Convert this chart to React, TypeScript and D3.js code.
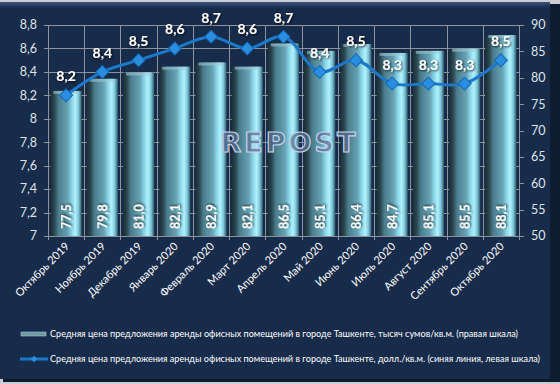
import * as d3 from "d3";
import React, { useEffect, useRef } from "react";

const months = [
  "Октябрь 2019", "Ноябрь 2019", "Декабрь 2019", "Январь 2020", "Февраль 2020",
  "Март 2020", "Апрель 2020", "Май 2020", "Июнь 2020", "Июль 2020",
  "Август 2020", "Сентябрь 2020", "Октябрь 2020",
];
// thousand sum / sq.m. (bars, right axis)
const rentSum = [77.5, 79.8, 81.0, 82.1, 82.9, 82.1, 86.5, 85.1, 86.4, 84.7, 85.1, 85.5, 88.1];
// usd / sq.m. (blue line, left axis)
const rentUsd = [8.2, 8.4, 8.5, 8.6, 8.7, 8.6, 8.7, 8.4, 8.5, 8.3, 8.3, 8.3, 8.5];
const leftTicks = [7, 7.2, 7.4, 7.6, 7.8, 8, 8.2, 8.4, 8.6, 8.8];
const rightTicks = [50, 55, 60, 65, 70, 75, 80, 85, 90];
const legendLabels = [
  "Средняя цена предложения аренды офисных помещений в городе Ташкенте, тысяч сумов/кв.м. (правая шкала)",
  "Средняя цена предложения аренды офисных помещений в городе Ташкенте, долл./кв.м. (синяя линия, левая шкала)",
];

const comma = (v: number, f: string) => d3.format(f)(v).replace(".", ",");

export default function App() {
  const ref = useRef<SVGSVGElement>(null);

  useEffect(() => {
    const svg = d3.select(ref.current);
    svg.selectAll("*").remove();

    const width = 560;
    const height = 384;
    const left = 48, right = 519, top = 25, bottom = 236;
    const font = "Lato, 'Open Sans', sans-serif";

    const defs = svg.append("defs");
    const barGrad = defs.append("linearGradient").attr("id", "barGrad")
      .attr("x1", 0).attr("x2", 1).attr("y1", 0).attr("y2", 0);
    [
      [0, "#1b2e36"], [0.12, "#2a444e"], [0.25, "#4a7c8c"], [0.55, "#67a3b4"],
      [0.7, "#8fdcef"], [0.8, "#b2f0fc"], [0.9, "#7cc6da"], [1, "#2f5a66"],
    ].forEach(([o, c]) => barGrad.append("stop").attr("offset", o as number).attr("stop-color", c as string));

    const bevel = defs.append("linearGradient").attr("id", "bevel")
      .attr("x1", 0).attr("x2", 0).attr("y1", 0).attr("y2", 1);
    bevel.append("stop").attr("offset", 0).attr("stop-color", "#3c5478");
    bevel.append("stop").attr("offset", 1).attr("stop-color", "#172b4b");

    const shadow = defs.append("filter").attr("id", "ts")
      .attr("x", "-20%").attr("y", "-20%").attr("width", "140%").attr("height", "140%");
    shadow.append("feDropShadow").attr("dx", 1).attr("dy", 1).attr("stdDeviation", 0.8)
      .attr("flood-color", "#000").attr("flood-opacity", 0.8);

    // frame
    svg.append("rect").attr("width", width).attr("height", height).attr("fill", "#c9cdd3");
    svg.append("rect").attr("x", 3).attr("y", 4).attr("width", 557).attr("height", 378).attr("fill", "#0f1c30");
    svg.append("rect").attr("x", 0).attr("y", 2).attr("width", 550).attr("height", 377).attr("fill", "#172b4b");
    svg.append("rect").attr("x", 0).attr("y", 2).attr("width", 550).attr("height", 6).attr("fill", "url(#bevel)");

    const x = d3.scaleBand<string>().domain(months).range([left, right])
      .paddingInner(0.14).paddingOuter(0.07);
    const step = x.step();
    const yL = d3.scaleLinear().domain([7, 8.8]).range([bottom, top]);
    const yR = d3.scaleLinear().domain([50, 90]).range([bottom, top]);

    // grid
    const grid = svg.append("g").attr("stroke", "#8d939b").attr("stroke-width", 1);
    grid.selectAll("line.h").data(leftTicks).join("line").attr("class", "h")
      .attr("x1", left - 4).attr("x2", right)
      .attr("y1", d => Math.round(yL(d)) + 0.5).attr("y2", d => Math.round(yL(d)) + 0.5);
    grid.selectAll("line.v").data(d3.range(months.length + 1)).join("line").attr("class", "v")
      .attr("x1", i => Math.round(left + i * step) + 0.5).attr("x2", i => Math.round(left + i * step) + 0.5)
      .attr("y1", top).attr("y2", bottom + 4);

    // bars
    const bars = svg.append("g");
    bars.selectAll("rect.bar").data(rentSum).join("rect").attr("class", "bar")
      .attr("x", (_, i) => x(months[i])!)
      .attr("y", d => yR(d))
      .attr("width", x.bandwidth())
      .attr("height", d => bottom - yR(d))
      .attr("fill", "url(#barGrad)");
    bars.selectAll("rect.cap").data(rentSum).join("rect").attr("class", "cap")
      .attr("x", (_, i) => x(months[i])! + 3)
      .attr("y", d => yR(d))
      .attr("width", x.bandwidth() - 6)
      .attr("height", 3)
      .attr("fill", "#9fc7d2").attr("opacity", 0.6);

    // right axis
    const rAxis = svg.append("g");
    rAxis.append("line").attr("x1", right + 0.5).attr("x2", right + 0.5).attr("y1", top).attr("y2", bottom)
      .attr("stroke", "#8d939b");
    rAxis.selectAll("line.t").data(rightTicks).join("line").attr("class", "t")
      .attr("x1", right).attr("x2", right + 5)
      .attr("y1", d => Math.round(yR(d)) + 0.5).attr("y2", d => Math.round(yR(d)) + 0.5)
      .attr("stroke", "#8d939b");
    rAxis.selectAll("text").data(rightTicks).join("text")
      .attr("x", 531).attr("y", d => yR(d)).attr("dy", "0.35em")
      .attr("fill", "#dfe4ea").style("font-family", font).style("font-size", "12.5px")
      .text(d => d);

    // left axis labels
    svg.append("g").selectAll("text").data(leftTicks).join("text")
      .attr("x", 37).attr("y", d => yL(d)).attr("dy", "0.35em").attr("text-anchor", "end")
      .attr("fill", "#dfe4ea").style("font-family", font).style("font-size", "12.5px")
      .text(d => comma(d, "~g"));

    // bar value labels
    svg.append("g").selectAll("text").data(rentSum).join("text")
      .attr("transform", (_, i) => `translate(${x(months[i])! + x.bandwidth() / 2 + 5},${bottom - 7}) rotate(-90)`)
      .attr("fill", "#fff").style("font-family", font).style("font-size", "12.5px")
      .style("font-weight", "bold").attr("filter", "url(#ts)")
      .text(d => comma(d, ".1f"));

    // watermark
    svg.append("text").attr("x", (left + right) / 2 + 6).attr("y", 152)
      .attr("text-anchor", "middle").style("font-family", "'DejaVu Sans', sans-serif")
      .style("font-size", "27px").style("font-weight", "bold").style("letter-spacing", "3px")
      .attr("fill", "#5b7292").attr("fill-opacity", 0.75).attr("stroke", "#c3d2ea").attr("stroke-width", 1.2)
      .text("REPOST");

    // line
    const cx = (i: number) => x(months[i])! + x.bandwidth() / 2;
    const line = d3.line<number>().x((_, i) => cx(i)).y(d => yL(d)).curve(d3.curveCatmullRom.alpha(0.5));
    svg.append("path").datum(rentUsd).attr("d", line)
      .attr("fill", "none").attr("stroke", "#1c78c8").attr("stroke-width", 3);
    const sq = d3.symbol(d3.symbolSquare, 85);
    svg.append("g").selectAll("path").data(rentUsd).join("path")
      .attr("transform", (d, i) => `translate(${cx(i)},${yL(d)}) rotate(45)`)
      .attr("d", sq()).attr("fill", "#2a8ee0").attr("stroke", "#1566b0").attr("stroke-width", 1);

    // line labels
    svg.append("g").selectAll("text").data(rentUsd).join("text")
      .attr("x", (_, i) => cx(i)).attr("y", d => yL(d) - 14).attr("text-anchor", "middle")
      .attr("fill", "#fff").style("font-family", font).style("font-size", "14px")
      .style("font-weight", "bold").attr("filter", "url(#ts)")
      .text(d => comma(d, ".1f"));

    // x labels
    svg.append("g").selectAll("text").data(months).join("text")
      .attr("transform", d => `translate(${x(d)! + x.bandwidth() / 2 + 4},${bottom + 11}) rotate(-45)`)
      .attr("text-anchor", "end").attr("fill", "#fff")
      .style("font-family", font).style("font-size", "11px")
      .text(d => d);

    // legend
    const lg = svg.append("g");
    lg.append("rect").attr("x", 21).attr("y", 332).attr("width", 25).attr("height", 4)
      .attr("fill", "#6e9aa4").attr("stroke", "#a9c4ca").attr("stroke-width", 0.6);
    lg.append("line").attr("x1", 20).attr("x2", 48).attr("y1", 359).attr("y2", 359)
      .attr("stroke", "#1c78c8").attr("stroke-width", 3);
    lg.append("path").attr("transform", "translate(34,359) rotate(45)")
      .attr("d", d3.symbol(d3.symbolSquare, 22)()).attr("fill", "#2a8ee0");
    const legendWidths = [468, 490];
    lg.selectAll("text").data(legendLabels).join("text")
      .attr("x", 50).attr("y", (_, i) => 334 + i * 25).attr("dy", "0.35em")
      .attr("textLength", (_, i) => legendWidths[i]).attr("lengthAdjust", "spacingAndGlyphs")
      .attr("fill", "#fff").style("font-family", font).style("font-size", "9px")
      .text(d => d);
  }, []);

  return (
    <svg ref={ref} width={560} height={384}
      style={{ position: "absolute", left: 0, top: 0, display: "block" }} />
  );
}
